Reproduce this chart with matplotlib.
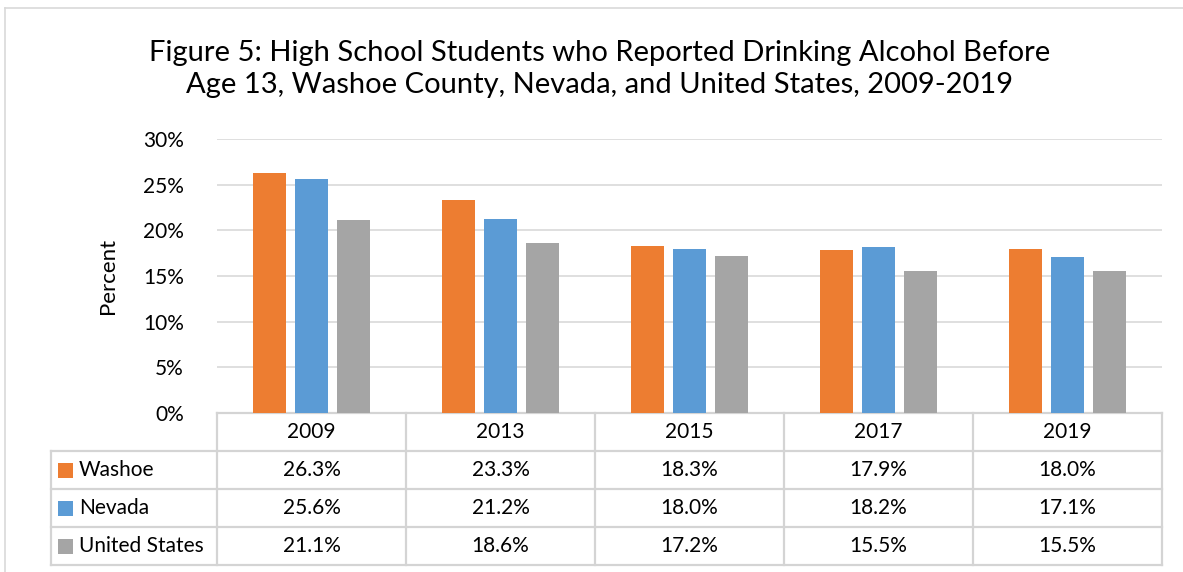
import matplotlib
matplotlib.use("Agg")
import matplotlib.pyplot as plt
from matplotlib.patches import Rectangle
from matplotlib.lines import Line2D
import numpy as np

years = ["2009", "2013", "2015", "2017", "2019"]
series_names = ["Washoe", "Nevada", "United States"]
washoe = [26.3, 23.3, 18.3, 17.9, 18.0]
nevada = [25.6, 21.2, 18.0, 18.2, 17.1]
us = [21.1, 18.6, 17.2, 15.5, 15.5]
colors = ["#ED7D31", "#5B9BD5", "#A5A5A5"]
yticks = [0, 5, 10, 15, 20, 25, 30]

plt.rcParams['font.family'] = ['Lato', 'DejaVu Sans']

W, H = 1183, 572
fig = plt.figure(figsize=(W / 100, H / 100), dpi=100)

def fx(px):
    return px / W

def fy(py):
    return 1 - py / H

ax_left, ax_right, ax_top, ax_bot = 217, 1162, 139, 413
ax = fig.add_axes([fx(ax_left), fy(ax_bot), fx(ax_right - ax_left), (ax_bot - ax_top) / H])

data = [washoe, nevada, us]
x = np.arange(len(years))
bw = 0.175
step = 0.222
for i, (vals, c) in enumerate(zip(data, colors)):
    ax.bar(x + (i - 1) * step, vals, width=bw, color=c, zorder=3)

FS = 15
ax.set_xlim(-0.5, len(years) - 0.5)
ax.set_ylim(0, 30)
ax.set_yticks(yticks)
ax.set_yticklabels([f"{t}%" for t in yticks], fontsize=FS)
ax.tick_params(axis='y', length=0, pad=24)
ax.set_xticks([])
ax.yaxis.grid(True, color="#D9D9D9", linewidth=1.2, zorder=0)
for s in ax.spines.values():
    s.set_visible(False)
ax.set_ylabel("Percent", fontsize=16, labelpad=18)

# Data table
row_h = 38 / (ax_bot - ax_top)
line_kw = dict(color="#D4D4D4", linewidth=1.6, clip_on=False, transform=ax.transAxes)
leg_left = (51 - ax_left) / (ax_right - ax_left)
ax.add_line(Line2D([0, 1], [0, 0], **line_kw))
for r in range(1, 5):
    ax.add_line(Line2D([leg_left, 1], [-r * row_h, -r * row_h], **line_kw))
for j in range(len(years) + 1):
    xa = j / len(years)
    ax.add_line(Line2D([xa, xa], [0, -4 * row_h], **line_kw))
ax.add_line(Line2D([leg_left, leg_left], [-row_h, -4 * row_h], **line_kw))

for j, yr in enumerate(years):
    ax.text((j + 0.5) / len(years), -0.5 * row_h, yr, transform=ax.transAxes,
            ha='center', va='center', fontsize=FS)
sq_w = 15 / (ax_right - ax_left)
sq_h = 15 / (ax_bot - ax_top)
for r, (name, vals, c) in enumerate(zip(series_names, data, colors)):
    yc = -(r + 1.5) * row_h
    sx = (58 - ax_left) / (ax_right - ax_left)
    ax.add_patch(Rectangle((sx, yc - sq_h / 2), sq_w, sq_h, facecolor=c, edgecolor='none',
                           transform=ax.transAxes, clip_on=False))
    ax.text((79 - ax_left) / (ax_right - ax_left), yc, name, transform=ax.transAxes,
            ha='left', va='center', fontsize=FS)
    for j, v in enumerate(vals):
        ax.text((j + 0.5) / len(years), yc, f"{v:.1f}%", transform=ax.transAxes,
                ha='center', va='center', fontsize=FS)

# title
fig.text(fx(600), fy(69), "Figure 5: High School Students who Reported Drinking Alcohol Before\nAge 13, Washoe County, Nevada, and United States, 2009-2019",
         ha='center', va='center', fontsize=21, linespacing=1.25)

# outer border (top and left only visible)
fig.add_artist(Line2D([fx(5), 1], [fy(8), fy(8)], transform=fig.transFigure,
                      color='#D9D9D9', linewidth=1.2))
fig.add_artist(Line2D([fx(5), fx(5)], [fy(8), 0], transform=fig.transFigure,
                      color='#D9D9D9', linewidth=1.2))

fig.savefig("out.png", dpi=100)
